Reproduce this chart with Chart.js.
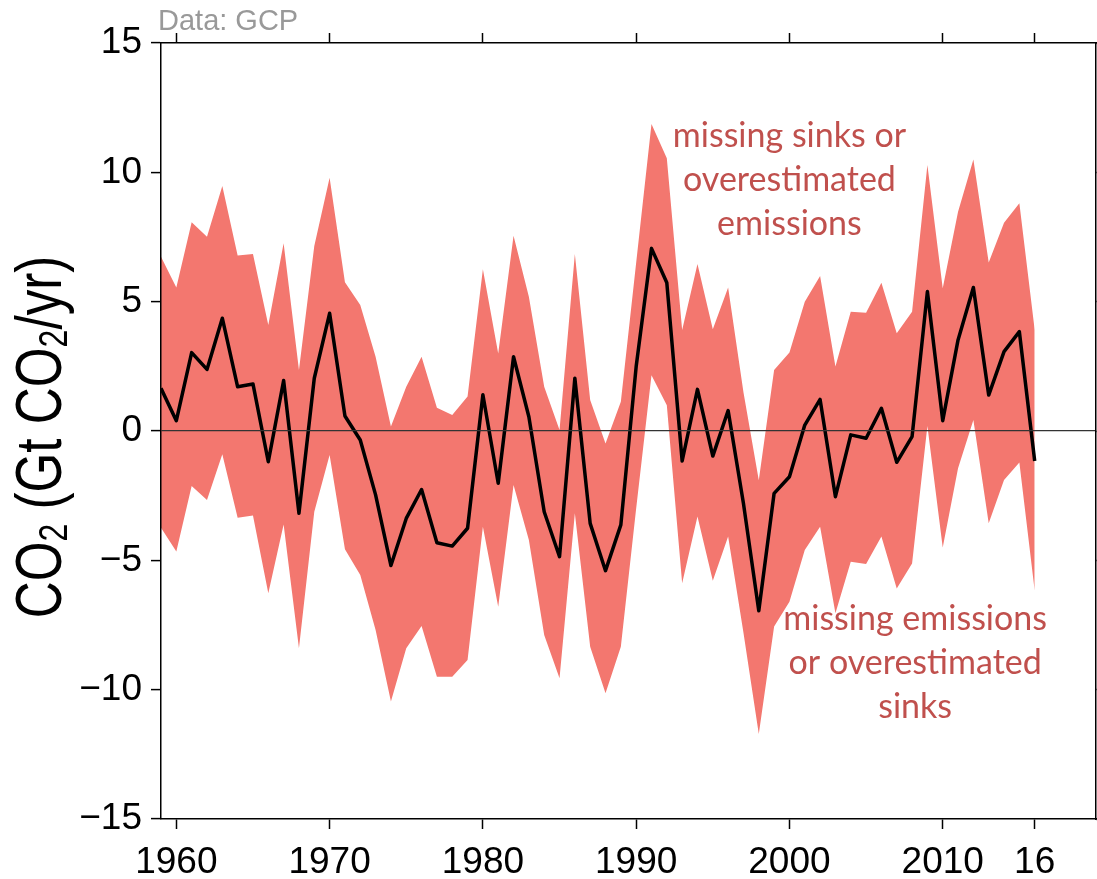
<!DOCTYPE html>
<html>
<head>
<meta charset="utf-8">
<script src="https://cdn.jsdelivr.net/npm/chart.js@4/dist/chart.umd.min.js"></script>
<style>
  html, body { margin: 0; padding: 0; background: #fff; }
</style>
</head>
<body>
<canvas id="chart" width="1097" height="879"></canvas>
<script>
// budget imbalance, Gt CO2/yr
const years = [
  1959, 1960, 1961, 1962, 1963, 1964, 1965, 1966, 1967, 1968,
  1969, 1970, 1971, 1972, 1973, 1974, 1975, 1976, 1977, 1978,
  1979, 1980, 1981, 1982, 1983, 1984, 1985, 1986, 1987, 1988,
  1989, 1990, 1991, 1992, 1993, 1994, 1995, 1996, 1997, 1998,
  1999, 2000, 2001, 2002, 2003, 2004, 2005, 2006, 2007, 2008,
  2009, 2010, 2011, 2012, 2013, 2014, 2015, 2016,
];
const imbalance = [
  1.65, 0.40, 3.03, 2.38, 4.36, 1.71, 1.82, -1.19, 1.95, -3.18,
  2.04, 4.55, 0.58, -0.35, -2.47, -5.2, -3.38, -2.26, -4.32, -4.45,
  -3.76, 1.4, -2.02, 2.87, 0.55, -3.12, -4.86, 2.04, -3.57, -5.4,
  -3.63, 2.49, 7.06, 5.73, -1.16, 1.61, -0.97, 0.79, -2.8, -6.95,
  -2.41, -1.77, 0.23, 1.22, -2.54, -0.15, -0.28, 0.88, -1.21, -0.22,
  5.39, 0.40, 3.52, 5.55, 1.39, 3.07, 3.84, -1.16,
];
const upper = [
  6.74, 5.55, 8.07, 7.51, 9.47, 6.78, 6.84, 4.10, 7.26, 2.36,
  7.15, 9.79, 5.75, 4.87, 2.87, 0.17, 1.71, 2.87, 0.90, 0.62,
  1.33, 6.25, 3.0, 7.55, 5.19, 1.71, 0.04, 6.84, 1.2, -0.48,
  1.13, 6.5, 11.87, 10.54, 3.9, 6.46, 3.93, 5.55, 1.5, -1.9,
  2.36, 3.03, 5.0, 5.99, 2.49, 4.61, 4.57, 5.73, 3.78, 4.61,
  10.28, 5.52, 8.48, 10.5, 6.51, 8.05, 8.8, 3.9,
];
const lower = [
  -3.74, -4.66, -2.13, -2.67, -0.9, -3.35, -3.27, -6.27, -3.61, -8.4,
  -3.12, -0.93, -4.57, -5.57, -7.69, -10.46, -8.4, -7.54, -9.5, -9.5,
  -8.85, -3.7, -6.79, -2.09, -4.21, -7.89, -9.56, -3.18, -8.34, -10.14,
  -8.34, -3.0, 2.16, 1.0, -5.89, -3.31, -5.79, -4.08, -7.8, -11.71,
  -7.56, -6.6, -4.6, -3.7, -7.05, -5.05, -5.14, -4.08, -6.09, -5.12,
  0.19, -4.5, -1.44, 0.43, -3.57, -1.89, -1.22, -6.18,
];

const xTicks = [1960, 1970, 1980, 1990, 2000, 2010, 2016];
const yTicks = [-15, -10, -5, 0, 5, 10, 15];

const noteTop = ["missing sinks or", "overestimated", "emissions"];
const noteBottom = ["missing emissions", "or overestimated", "sinks"];

const bandColor = "#f3776f";
const noteColor = "#c0504d";
const tickFont = { family: "Liberation Sans, Arial, sans-serif", size: 37 };

const toPoints = (vals) => years.map((y, i) => ({ x: y, y: vals[i] }));

function fixTicks(list) {
  return (scale) => {
    scale.ticks = list.map((v) => ({ value: v }));
  };
}

// y title with real subscripts, plus the source note and the two annotations
const textPlugin = {
  id: "texts",
  afterDraw(chart) {
    const ctx = chart.ctx;
    const xs = chart.scales.x;
    const ys = chart.scales.y;

    ctx.save();
    ctx.fillStyle = "#999";
    ctx.font = "29px Liberation Sans, Arial, sans-serif";
    ctx.textAlign = "left";
    ctx.textBaseline = "alphabetic";
    ctx.fillText("Data: GCP", 158, 30);
    ctx.restore();

    // rotated axis title
    const parts = [
      ["CO", false], ["2", true], [" (Gt CO", false], ["2", true], ["/yr)", false],
    ];
    const big = 64;
    const small = 40;
    ctx.save();
    ctx.fillStyle = "#000";
    ctx.textBaseline = "alphabetic";
    ctx.textAlign = "left";
    let total = 0;
    parts.forEach(([t, sub]) => {
      ctx.font = (sub ? small : big) + "px Liberation Sans, Arial, sans-serif";
      total += ctx.measureText(t).width;
    });
    ctx.translate(61, (chart.chartArea.top + chart.chartArea.bottom) / 2 + 6);
    ctx.rotate(-Math.PI / 2);
    ctx.scale(0.8, 1);
    let x = -total / 2;
    parts.forEach(([t, sub]) => {
      ctx.font = (sub ? small : big) + "px Liberation Sans, Arial, sans-serif";
      ctx.fillText(t, x, sub ? 6 : 0);
      x += ctx.measureText(t).width;
    });
    ctx.restore();

    // annotations
    ctx.save();
    ctx.fillStyle = noteColor;
    ctx.font = "34px Lato, Carlito, sans-serif";
    ctx.textAlign = "center";
    ctx.textBaseline = "alphabetic";
    const lh = 44;
    let cx = xs.getPixelForValue(2000.0);
    let cy = ys.getPixelForValue(10.98);
    noteTop.forEach((line, i) => ctx.fillText(line, cx, cy + i * lh));
    cx = xs.getPixelForValue(2008.2);
    cy = ys.getPixelForValue(-7.69);
    noteBottom.forEach((line, i) => ctx.fillText(line, cx, cy + i * lh));
    ctx.restore();
  },
};

const frame = { display: true, color: "#000", width: 1.5, z: 1 };

new Chart(document.getElementById("chart"), {
  type: "line",
  data: {
    datasets: [
      {
        label: "lower",
        data: toPoints(lower),
        borderWidth: 0,
        pointRadius: 0,
        fill: false,
        order: 3,
      },
      {
        label: "upper",
        data: toPoints(upper),
        borderWidth: 0,
        pointRadius: 0,
        backgroundColor: bandColor,
        fill: "-1",
        order: 2,
      },
      {
        label: "imbalance",
        data: toPoints(imbalance),
        borderColor: "#000",
        borderWidth: 3.5,
        borderJoinStyle: "round",
        pointRadius: 0,
        fill: false,
        tension: 0,
        order: 1,
      },
    ],
  },
  options: {
    responsive: false,
    animation: false,
    layout: { padding: 0 },
    plugins: {
      legend: { display: false },
      tooltip: { enabled: false },
    },
    scales: {
      x: {
        type: "linear",
        position: "bottom",
        min: 1959,
        max: 2020,
        afterBuildTicks: fixTicks(xTicks),
        afterFit: (s) => { s.height = 60; },
        border: frame,
        grid: {
          drawOnChartArea: false,
          tickLength: 10,
          tickColor: "#000",
          tickWidth: 1.5,
        },
        ticks: {
          font: tickFont,
          color: "#000",
          padding: 12,
          maxRotation: 0,
          autoSkip: false,
          callback: (v) => (v === 2016 ? "16" : String(v)),
        },
      },
      x2: {
        type: "linear",
        position: "top",
        min: 1959,
        max: 2020,
        afterBuildTicks: fixTicks(xTicks),
        afterFit: (s) => { s.height = 43; },
        border: frame,
        grid: {
          drawOnChartArea: false,
          tickLength: 10,
          tickColor: "#000",
          tickWidth: 1.5,
        },
        ticks: { display: false },
      },
      y: {
        min: -15,
        max: 15,
        afterBuildTicks: fixTicks(yTicks),
        afterFit: (s) => { s.width = 161; },
        border: frame,
        grid: {
          z: 1,
          color: (c) => (c.tick && c.tick.value === 0 ? "#333" : "rgba(0,0,0,0)"),
          lineWidth: 1.2,
          tickLength: 10,
          tickColor: "#000",
          tickWidth: 1.5,
        },
        ticks: {
          font: tickFont,
          color: "#000",
          padding: 9,
          callback: (v) => (v < 0 ? "\u2212" + Math.abs(v) : String(v)),
        },
      },
      y2: {
        position: "right",
        min: -15,
        max: 15,
        afterBuildTicks: fixTicks(yTicks),
        afterFit: (s) => { s.width = 1; },
        border: frame,
        grid: {
          drawOnChartArea: false,
          tickLength: 10,
          tickColor: "#000",
          tickWidth: 1.5,
        },
        ticks: { display: false },
      },
    },
  },
  plugins: [textPlugin],
});
</script>
</body>
</html>
